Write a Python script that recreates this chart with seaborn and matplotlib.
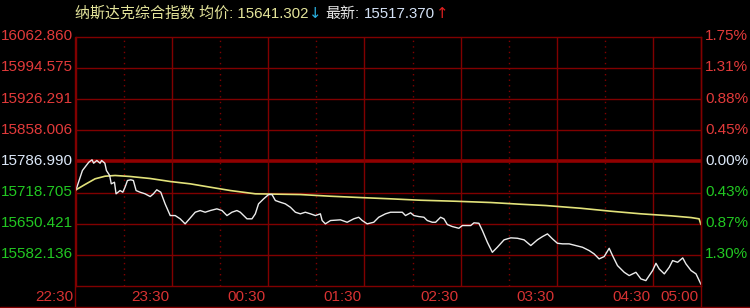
import matplotlib
matplotlib.use("Agg")
import matplotlib.pyplot as plt
import matplotlib.transforms as mtransforms
from matplotlib.lines import Line2D
import seaborn as sns

# ---------------- data ----------------
prev_close = 15786.990
row_step = 68.285

left_labels = ["16062.860", "15994.575", "15926.291", "15858.006",
               "15786.990", "15718.705", "15650.421", "15582.136"]
right_labels = ["1.75%", "1.31%", "0.88%", "0.45%",
                "0.00%", "0.43%", "0.87%", "1.30%"]
time_labels = ["22:30", "23:30", "00:30", "01:30", "02:30", "03:30", "04:30", "05:00"]
time_ticks = [0, 60, 120, 180, 240, 300, 360, 390]
half_hours = [30, 90, 150, 210, 270, 330]

price_minutes = [0, 4, 8, 10, 11, 13, 15, 16, 18, 19, 21, 22, 24, 25, 27.5, 29.2, 30.6, 32.1,
                 34.2, 35.8, 37.5, 40, 43.1, 46.3, 48.3, 50.4, 52.9, 55.6, 58.8, 61.9, 65, 68.1,
                 70.8, 74.4, 77.5, 80.6, 83.8, 87.9, 91.1, 94.2, 97.3, 100.4, 102.5, 106.7, 109.8,
                 111.9, 113.9, 117.1, 120.2, 122.3, 124.4, 127.5, 130.6, 133.8, 136.9, 140, 143.1,
                 146.3, 149.4, 152.5, 153.6, 155.6, 158.8, 165, 169.2, 173.3, 176.4, 178.6, 181.7,
                 185.8, 188.9, 193.1, 196.3, 199.4, 203.6, 205.6, 208.8, 210.8, 213.9, 217.1, 219.2,
                 222.3, 224.4, 227.5, 229.6, 231.7, 234.8, 238.9, 241.1, 246.3, 248.3, 251.4, 253.6,
                 256.7, 259.8, 262.9, 267.1, 271.3, 275.4, 279.6, 283.8, 287.9, 291.1, 294.2, 297.3,
                 300.4, 303.6, 307.7, 311.9, 316.1, 320.2, 323.3, 326.4, 329.6, 332.7, 334.8, 337.9,
                 342.1, 345.2, 349.4, 352.5, 355.6, 357.7, 359.8, 361.9, 363.9, 367.1, 370.2, 372.3,
                 375.4, 378.6, 380.6, 383.8, 386.9, 389.4, 390]
price_values = [15724.8, 15767.2, 15785.5, 15790.7, 15783.3, 15789.2, 15783.3, 15789.2, 15783.3,
                15767.2, 15756.3, 15738.0, 15741.5, 15716.1, 15723.3, 15719.6, 15730.6, 15745.3,
                15746.8, 15745.3, 15723.3, 15719.6, 15716.1, 15710.1, 15716.1, 15724.9, 15719.6,
                15694.1, 15668.4, 15668.4, 15661.2, 15650.2, 15661.2, 15675.7, 15679.4, 15675.7,
                15679.4, 15683.1, 15679.4, 15668.4, 15675.7, 15679.4, 15675.7, 15661.2, 15661.2,
                15672.2, 15694.1, 15705.1, 15714.5, 15714.5, 15701.4, 15697.6, 15694.1, 15686.6,
                15675.7, 15672.2, 15675.7, 15672.2, 15668.4, 15672.2, 15657.5, 15650.2, 15657.5,
                15659.0, 15653.7, 15661.2, 15664.7, 15657.5, 15650.2, 15653.7, 15664.7, 15672.2,
                15675.7, 15675.7, 15675.7, 15668.4, 15674.4, 15668.4, 15666.2, 15664.7, 15657.5,
                15653.7, 15653.7, 15664.7, 15661.2, 15648.7, 15644.3, 15640.5, 15646.5, 15646.5,
                15652.4, 15651.5, 15635.5, 15609.8, 15587.8, 15598.8, 15615.1, 15619.5, 15618.6,
                15615.1, 15602.6, 15615.1, 15622.3, 15628.2, 15617.3, 15607.6, 15606.3, 15606.3,
                15602.6, 15598.8, 15591.6, 15584.3, 15573.3, 15578.4, 15596.6, 15580.6, 15558.6,
                15543.9, 15536.7, 15543.9, 15529.4, 15525.7, 15536.7, 15547.7, 15563.7, 15551.4,
                15540.4, 15555.1, 15569.6, 15565.9, 15575.5, 15562.4, 15547.7, 15540.4, 15522.0,
                15517.37]

avg_minutes = [0, 5.6, 11.9, 18.1, 24.4, 33.8, 46.3, 58.8, 71.3, 83.8, 96.3, 111.9, 140, 158.8,
               177.5, 196.3, 215, 236.9, 258.8, 277.5, 293.1, 315, 333.8, 352.5, 371.3, 383.8,
               388.8, 390]
avg_values = [15724.9, 15736.5, 15749.0, 15754.7, 15756.3, 15754.1, 15749.7, 15743.1, 15738.0,
              15730.6, 15723.3, 15716.1, 15714.5, 15710.8, 15707.9, 15705.1, 15702.0, 15699.8,
              15697.0, 15693.2, 15690.4, 15684.4, 15677.9, 15672.2, 15667.8, 15664.0, 15661.2,
              15648.7]

title_name = "纳斯达克综合指数 均价: 15641.302"
avg_arrow = "↓"
last_name = "最新:"
last_value = "15517.370"
last_arrow = "↑"

# ---------------- style ----------------
sns.set_theme(style="dark", rc={"figure.facecolor": "black", "axes.facecolor": "black",
                               "savefig.facecolor": "black"})
FONT = ["Liberation Sans", "Noto Sans CJK SC", "DejaVu Sans"]
plt.rcParams["font.family"] = FONT

GRID = "#800000"
RED = "#e23a3a"
GREEN = "#22c822"
NEUTRAL = "#dce8f8"
FS = 11

W, H = 750, 308
fig = plt.figure(figsize=(W / 100, H / 100), dpi=100)
L, R, T, B = 76, 701, 37, 286
ax = fig.add_axes([L / W, 1 - B / H, (R - L) / W, (B - T) / H])
ax.set_facecolor("black")

ymin = prev_close - 4 * row_step
ymax = prev_close + 4 * row_step
ax.set_xlim(0, 390)
ax.set_ylim(ymin, ymax)

# grid
for k in range(-3, 4):
    if k == 0:
        continue
    ax.axhline(prev_close + k * row_step, color=GRID, lw=1.0, zorder=1)
ax.axhline(prev_close, color="#900000", lw=2.6, zorder=1)
for t in time_ticks[1:-1]:
    ax.axvline(t, color=GRID, lw=1.0, zorder=1)
for t in half_hours:
    ax.axvline(t, color="#800000", lw=1.0, linestyle=(0, (1, 3)), zorder=1)

for s in ["top", "right", "bottom", "left"]:
    ax.spines[s].set_visible(True)
    ax.spines[s].set_color(GRID)
    ax.spines[s].set_linewidth(1.0)
ax.set_xticks([])
ax.set_yticks([])
ax.set_xlabel("")
ax.set_ylabel("")

# lines
sns.lineplot(x=avg_minutes, y=avg_values, ax=ax, color="#e2e27a", lw=1.2,
             estimator=None, sort=False, zorder=3)
sns.lineplot(x=price_minutes, y=price_values, ax=ax, color="#ececec", lw=1.0,
             estimator=None, sort=False, zorder=4)

# y labels
trans = mtransforms.blended_transform_factory(ax.transAxes, ax.transData)
for i, (ll, rl) in enumerate(zip(left_labels, right_labels)):
    yv = prev_close + (4 - i) * row_step
    col = RED if i < 4 else (NEUTRAL if i == 4 else GREEN)
    ax.annotate(ll, xy=(0, yv), xycoords=trans, xytext=(-2.2, 0.5), textcoords="offset points",
                ha="right", va="center", color=col, fontsize=FS)
    ax.annotate(rl, xy=(1, yv), xycoords=trans, xytext=(3, 0.5), textcoords="offset points",
                ha="left", va="center", color=col, fontsize=FS)

# time labels
tx = mtransforms.blended_transform_factory(ax.transData, ax.transAxes)
for t, lab in zip(time_ticks, time_labels):
    ax.annotate(lab, xy=(t, 0), xycoords=tx, xytext=(-1.8, -8.0), textcoords="offset points",
                ha="right", va="center", color="#d83232", fontsize=FS)

# outer frame lines
fig.add_artist(Line2D([(L - 1) / W, (L - 1) / W], [1 - T / H, 0], transform=fig.transFigure,
                      color=GRID, lw=1.0))
fig.add_artist(Line2D([R / W, R / W], [1 - T / H, 0], transform=fig.transFigure,
                      color=GRID, lw=1.0))
fig.add_artist(Line2D([0, 1], [1 - 306.5 / H, 1 - 306.5 / H], transform=fig.transFigure,
                      color=GRID, lw=1.0))

# title
TFS = 10.8
t1 = fig.text(75 / W, 1 - 14 / H, title_name, color="#e4e49a", fontsize=TFS, ha="left", va="center")
t2 = plt.annotate(avg_arrow, xy=(1, 0.5), xycoords=t1, xytext=(0.3, 0), textcoords="offset points",
                  ha="left", va="center", color="#2ab0e0", fontsize=TFS, annotation_clip=False,
                  family=["DejaVu Sans"])
t3 = plt.annotate(last_name, xy=(1, 0.5), xycoords=t2, xytext=(3, 0), textcoords="offset points",
                  ha="left", va="center", color="#e6e6e6", fontsize=TFS, annotation_clip=False)
t4 = plt.annotate(last_value, xy=(1, 0.5), xycoords=t3, xytext=(3, 0), textcoords="offset points",
                  ha="left", va="center", color="#d4e2f6", fontsize=TFS, annotation_clip=False)
t5 = plt.annotate(last_arrow, xy=(1, 0.5), xycoords=t4, xytext=(0.3, 0), textcoords="offset points",
                  ha="left", va="center", color="#e02020", fontsize=TFS, annotation_clip=False,
                  family=["DejaVu Sans"])

fig.savefig("out.png", dpi=100, facecolor="black")
